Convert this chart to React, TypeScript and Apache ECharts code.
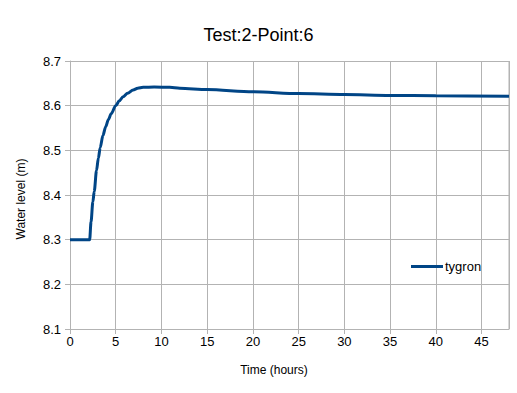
import React, { useEffect, useRef } from "react";
import * as echarts from "echarts";

const titleText = "Test:2-Point:6";
const seriesName = "tygron";
const xAxisName = "Time (hours)";
const yAxisName = "Water level (m)";

const times = [0, 2.15, 2.3, 2.5, 2.65, 2.9, 3.1, 3.3, 3.6, 3.9, 4.2, 4.5, 5.0, 5.4, 5.8, 6.3, 6.9, 7.4, 8.0, 9.2, 10.9, 12, 15, 20, 25, 30, 35, 40, 48];
const levels = [8.3, 8.3, 8.34, 8.385, 8.408, 8.455, 8.482, 8.506, 8.533, 8.553, 8.569, 8.582, 8.600, 8.611, 8.620, 8.628, 8.635, 8.639, 8.641, 8.642, 8.641, 8.639, 8.636, 8.631, 8.627, 8.625, 8.623, 8.622, 8.621];

export default function App() {
  const ref = useRef<HTMLDivElement>(null);
  useEffect(() => {
    document.body.style.margin = "0";
    const chart = echarts.init(ref.current!, null, { renderer: "svg" });
    const font = "'Liberation Sans', Arial, sans-serif";
    const data = times.map((t, i) => [t, levels[i]]);
    chart.setOption({
      animation: false,
      backgroundColor: "#ffffff",
      textStyle: { fontFamily: font },
      title: {
        text: titleText,
        left: "center",
        top: 21,
        textStyle: { fontFamily: font, fontSize: 18, fontWeight: "normal", color: "#000" },
      },
      grid: { left: 70, right: 8, top: 61, bottom: 64, containLabel: false },
      legend: {
        data: [seriesName],
        left: 406,
        top: 255,
        icon: "rect",
        itemWidth: 32,
        itemHeight: 3,
        itemGap: 0,
        textStyle: { fontFamily: font, fontSize: 13, color: "#000", padding: [0, 0, 0, -3] },
      },
      xAxis: {
        type: "value",
        min: 0,
        max: 48,
        interval: 5,
        axisLine: { show: true, lineStyle: { color: "#b3b3b3", width: 1 } },
        axisTick: { show: true, length: 5, lineStyle: { color: "#b3b3b3" } },
        axisLabel: { fontFamily: font, fontSize: 13, color: "#000", margin: 6, showMaxLabel: false },
        splitLine: { show: true, lineStyle: { color: "#b3b3b3", width: 1 } },
      },
      yAxis: {
        type: "value",
        min: 8.1,
        max: 8.7,
        interval: 0.1,
        axisLine: { show: true, lineStyle: { color: "#b3b3b3", width: 1 } },
        axisTick: { show: true, length: 5, lineStyle: { color: "#b3b3b3" } },
        axisLabel: {
          fontFamily: font,
          fontSize: 13,
          color: "#000",
          margin: 9,
          formatter: (v: number) => v.toFixed(1),
        },
        splitLine: { show: true, lineStyle: { color: "#b3b3b3", width: 1 } },
      },
      graphic: [
        {
          type: "line",
          shape: { x1: 509, y1: 61, x2: 509, y2: 329 },
          style: { stroke: "#b3b3b3", lineWidth: 1 },
          silent: true,
        },
        {
          type: "text",
          x: 274,
          y: 370,
          style: { text: xAxisName, fontFamily: font, fontSize: 12, fill: "#000", textAlign: "center", textVerticalAlign: "middle" },
        },
        {
          type: "text",
          x: 21,
          y: 199,
          rotation: Math.PI / 2,
          style: { text: yAxisName, fontFamily: font, fontSize: 12, fill: "#000", textAlign: "center", textVerticalAlign: "middle" },
        },
      ],
      series: [
        {
          name: seriesName,
          type: "line",
          data,
          showSymbol: false,
          smooth: 0.3,
          smoothMonotone: "x",
          lineStyle: { color: "#004586", width: 3 },
          itemStyle: { color: "#004586" },
        },
      ],
    });
    return () => chart.dispose();
  }, []);
  return <div ref={ref} style={{ width: 517, height: 393 }} />;
}
